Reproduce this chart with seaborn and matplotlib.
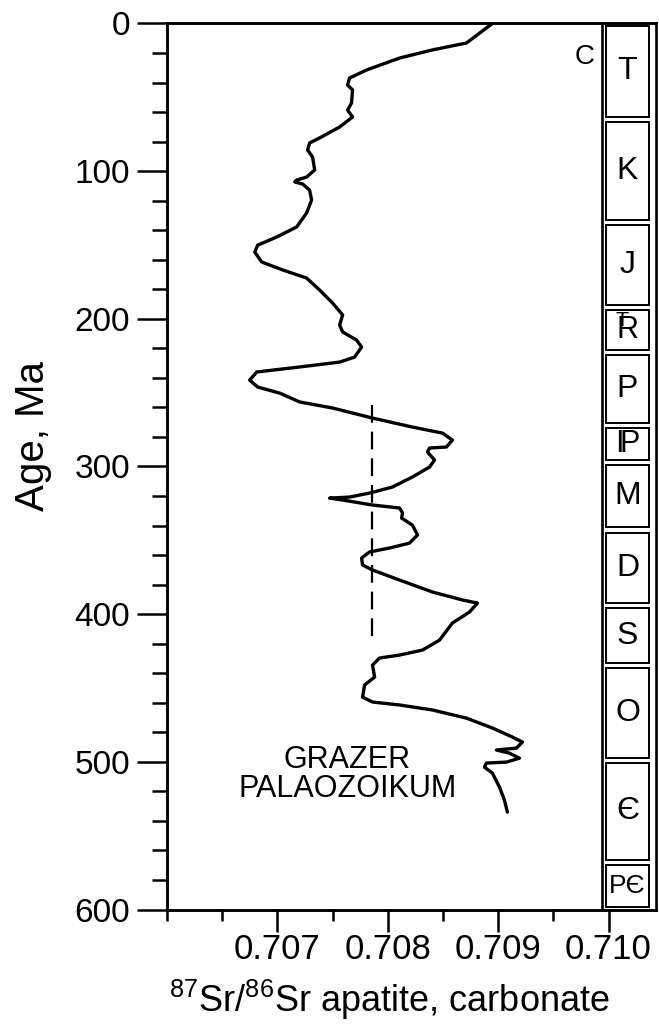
import matplotlib
matplotlib.use("Agg")
import matplotlib.pyplot as plt
from matplotlib.patches import Rectangle
import seaborn as sns
import pandas as pd

sns.set_theme(style="white")
plt.rcParams['font.family'] = ['Liberation Sans', 'DejaVu Sans']
plt.rcParams['mathtext.fontset'] = 'custom'
plt.rcParams['mathtext.rm'] = 'Liberation Sans'
plt.rcParams['mathtext.it'] = 'Liberation Sans'
plt.rcParams['mathtext.bf'] = 'Liberation Sans'
plt.rcParams['text.color'] = 'black'
plt.rcParams['axes.labelcolor'] = 'black'
plt.rcParams['xtick.color'] = 'black'
plt.rcParams['ytick.color'] = 'black'

# ---- data ----
age = [0, 13.2, 17.9, 23.4, 31.5, 36.9, 41.7, 45.0, 53.8, 58.6, 63.3, 70.1, 77.5, 80.9,
       85.7, 90.4, 99.2, 104.0, 106.0, 107.3, 108.7, 112.8, 119.5, 128.3, 137.8, 144.6,
       150.1, 154.8, 161.5, 166.9, 172.4, 180.5, 189.3, 197.4, 204.2, 208.9, 214.4, 219.1,
       225.9, 229.3, 232.6, 236.0, 241.5, 246.2, 250.3, 256.3, 260.4, 267.2, 273.3, 277.4,
       282.1, 286.8, 287.5, 290.2, 295.6, 300.4, 307.1, 313.9, 318.0, 320.7, 321.4, 322.7,
       326.1, 328.1, 331.5, 334.9, 339.7, 346.4, 351.9, 355.2, 357.9, 362.0, 366.7, 370.1,
       376.9, 385.0, 390.4, 392.5, 398.6, 406.0, 417.6, 424.3, 427.7, 429.7, 434.5, 442.6,
       448.0, 456.2, 459.5, 461.5, 464.9, 470.4, 477.1, 483.2, 486.6, 490.7, 492.0, 494.1,
       497.5, 500.2, 500.8, 503.6, 507.6, 517.1, 525.9, 534.0]
ratio = [0.708948, 0.708713, 0.708405, 0.708107, 0.707808, 0.707654, 0.707636, 0.707681,
         0.707672, 0.707636, 0.707681, 0.707564, 0.707383, 0.707292, 0.707274, 0.707319,
         0.707338, 0.707265, 0.707175, 0.707157, 0.707229, 0.707292, 0.707310, 0.707265,
         0.707175, 0.706994, 0.706822, 0.706795, 0.706858, 0.707048, 0.707265, 0.707383,
         0.707500, 0.707591, 0.707564, 0.707591, 0.707718, 0.707763, 0.707700, 0.707564,
         0.707202, 0.706813, 0.706749, 0.706822, 0.707021, 0.707202, 0.707500, 0.707862,
         0.708224, 0.708496, 0.708586, 0.708532, 0.708378, 0.708360, 0.708424, 0.708378,
         0.708224, 0.708043, 0.707835, 0.707654, 0.707473, 0.707591, 0.707862, 0.708107,
         0.708134, 0.708125, 0.708224, 0.708270, 0.708197, 0.708016, 0.707835, 0.707763,
         0.707772, 0.707862, 0.708107, 0.708405, 0.708677, 0.708813, 0.708740, 0.708586,
         0.708469, 0.708315, 0.708107, 0.707926, 0.707862, 0.707881, 0.707790, 0.707772,
         0.707862, 0.708107, 0.708405, 0.708713, 0.708948, 0.709129, 0.709220, 0.709166,
         0.708985, 0.709102, 0.709193, 0.709075, 0.708894, 0.708876, 0.708948, 0.709012,
         0.709057, 0.709084]

dash_ratio = [0.707853, 0.707853]
dash_age = [258.4, 420.9]

period_labels = ["T", "K", "J", r"${}^{\mathrm{T}}\!\!\!\mathrm{R}$", "P",
                 r"$\mathrm{I}\!\mathrm{P}$", "M", "D", "S", "O", "\u0404", "P\u0404"]
period_bounds = [0, 65, 135, 192, 223, 272, 297, 343, 394, 435, 499, 568, 600]
period_sizes = [23, 23, 23, 22, 23, 22, 23, 23, 23, 23, 23, 19]

x_major = [0.707, 0.708, 0.709, 0.710]
x_tick_labels = ["0.707", "0.708", "0.709", "0.710"]
x_minor = [0.706, 0.7065, 0.7075, 0.7085, 0.7095]
y_major = [0, 100, 200, 300, 400, 500, 600]
y_tick_labels = ["0", "100", "200", "300", "400", "500", "600"]
y_minor = [a for a in range(0, 601, 20) if a % 100 != 0]

annot_text = ["GRAZER", "PALAOZOIKUM"]
annot_ratio = [0.707627, 0.707636]
annot_age = [498.8, 518.4]

# ---- figure ----
fig = plt.figure(figsize=(6.59, 10.30), dpi=100)
fig.patch.set_facecolor("white")
ax = fig.add_axes([0.2534, 0.11699, 0.7420, 0.8602])
ax.set_facecolor("white")

curve = pd.DataFrame({"ratio": ratio, "age": age})
sns.lineplot(data=curve, x="ratio", y="age", sort=False, estimator=None,
             color="black", lw=2.4, ax=ax)
line = ax.lines[-1]
line.set_solid_joinstyle("round")
line.set_solid_capstyle("round")

dash = pd.DataFrame({"ratio": dash_ratio, "age": dash_age})
sns.lineplot(data=dash, x="ratio", y="age", sort=False, estimator=None,
             color="black", lw=1.6, ax=ax)
ax.lines[-1].set_linestyle((0, (8, 4)))

ax.set_xlim(0.706, 0.71043)
ax.set_ylim(600, 0)

# period column
col_outer_left = 0.70994
box_left, box_right = 0.709973, 0.710371
ax.axvline(col_outer_left, color="black", lw=1.9)
inset = 1.7
for i, lab in enumerate(period_labels):
    b0, b1 = period_bounds[i], period_bounds[i + 1]
    ax.add_patch(Rectangle((box_left, b0 + inset), box_right - box_left,
                           (b1 - b0) - 2 * inset, fill=False, ec="black", lw=1.4))
    xc, yc = (box_left + box_right) / 2, (b0 + b1) / 2
    ax.text(xc, yc, lab, fontsize=period_sizes[i], ha="center", va="center",
            color="black")

ax.text(0.709781, 22.7, "C", fontsize=20, ha="center", va="center", color="black")

for t, xr, ya in zip(annot_text, annot_ratio, annot_age):
    ax.text(xr, ya, t, fontsize=22, ha="center", va="center", color="black")

# axes styling
for s in ["left", "top", "bottom", "right"]:
    ax.spines[s].set_visible(True)
    ax.spines[s].set_color("black")
    ax.spines[s].set_linewidth(2.1)
ax.spines["right"].set_linewidth(1.9)

ax.set_xticks(x_major)
ax.set_xticklabels(x_tick_labels)
ax.set_xticks(x_minor, minor=True)
ax.set_yticks(y_major)
ax.set_yticklabels(y_tick_labels)
ax.set_yticks(y_minor, minor=True)
ax.tick_params(which="both", bottom=True, left=True, top=False, right=False,
               direction="out", color="black", width=1.8)
ax.tick_params(axis="x", which="major", length=16, labelsize=25, pad=1, labelcolor="black")
ax.tick_params(axis="x", which="minor", length=8)
ax.tick_params(axis="y", which="major", length=21.6, labelsize=24, pad=5, labelcolor="black")
ax.tick_params(axis="y", which="minor", length=10.8)
ax.grid(False)

ax.set_xlabel(r"$^{87}$Sr/$^{86}$Sr apatite, carbonate", fontsize=26, color="black")
ax.xaxis.set_label_coords(0.455, -0.077)
ax.set_ylabel("Age, Ma", fontsize=29, color="black")
ax.yaxis.set_label_coords(-0.235, 0.534)

fig.savefig("out.png", dpi=100, facecolor="white")
